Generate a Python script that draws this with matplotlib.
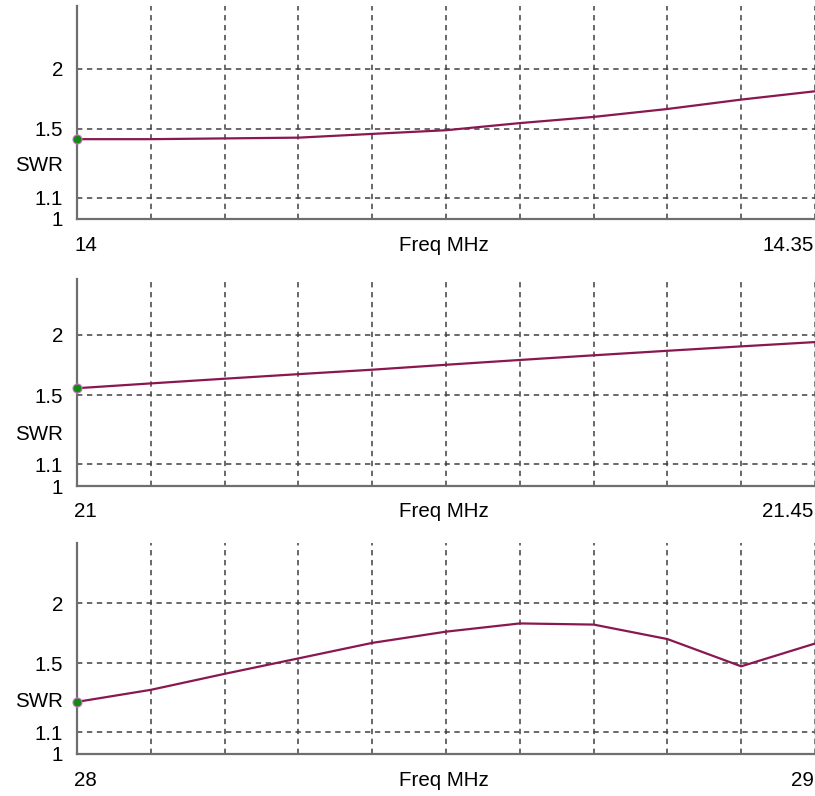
import numpy as np
import matplotlib
matplotlib.use("Agg")
import matplotlib.pyplot as plt

plt.rcParams['font.family'] = ['Liberation Sans', 'DejaVu Sans']

# SWR sweeps for three bands, read at each grid step
freq_20m = [14.0, 14.035, 14.07, 14.105, 14.14, 14.175, 14.21, 14.245, 14.28, 14.315, 14.35]
swr_20m = [1.43, 1.43, 1.435, 1.44, 1.465, 1.49, 1.54, 1.585, 1.645, 1.72, 1.79]

freq_15m = [21.0, 21.045, 21.09, 21.135, 21.18, 21.225, 21.27, 21.315, 21.36, 21.405, 21.45]
swr_15m = [1.55, 1.585, 1.62, 1.655, 1.69, 1.73, 1.77, 1.81, 1.85, 1.89, 1.93]

freq_10m = [28.0, 28.1, 28.2, 28.3, 28.4, 28.5, 28.6, 28.7, 28.8, 28.9, 29.0]
swr_10m = [1.26, 1.33, 1.43, 1.535, 1.65, 1.74, 1.81, 1.80, 1.68, 1.48, 1.645]

left_labels = ["14", "21", "28"]
right_labels = ["14.35", "21.45", "29"]
ytick_vals = [1, 1.1, 1.5, 2]
ytick_text = ["1", "1.1", "1.5", "2"]


def fwd(s):
    s = np.asarray(s, dtype=float)
    with np.errstate(divide='ignore', invalid='ignore'):
        return (s - 1) / (s + 1)


def inv(r):
    r = np.asarray(r, dtype=float)
    with np.errstate(divide='ignore', invalid='ignore'):
        return (1 + r) / (1 - r)


fig = plt.figure(figsize=(8.15, 7.96), dpi=100)

panels = [
    (freq_20m, swr_20m, [0.0945, 0.7249, 0.9055, 0.2676], 2.79, False),
    (freq_15m, swr_15m, [0.0945, 0.3894, 0.9055, 0.2601], 2.68, True),
    (freq_10m, swr_10m, [0.0945, 0.0528, 0.9055, 0.2651], 2.745, True),
]

fs = 14.8
for i, (f, s, pos, top, right_spine) in enumerate(panels):
    ax = fig.add_axes(pos)
    ax.set_yscale('function', functions=(fwd, inv))
    ax.set_xlim(f[0], f[-1])
    ax.set_ylim(1, top)

    ax.plot(f, s, color='#8a1850', linewidth=1.6, zorder=3)
    ax.plot(f[0], s[0], 'o', ms=6.5, mfc='#128a12', mec='#d070d0', mew=0.8,
            zorder=4, clip_on=False)

    ax.set_xticks(np.linspace(f[0], f[-1], 11))
    ax.set_xticklabels([])
    ax.set_yticks(ytick_vals)
    ax.set_yticklabels(ytick_text, fontsize=fs)
    ax.minorticks_off()
    ax.tick_params(axis='both', length=0, pad=10)

    ax.grid(True, color='#404040', linestyle=(0, (3.5, 3)), linewidth=1.1)

    ax.spines['top'].set_visible(False)
    ax.spines['left'].set_color('#6e6e6e')
    ax.spines['bottom'].set_color('#6e6e6e')
    ax.spines['left'].set_linewidth(1.6)
    ax.spines['bottom'].set_linewidth(1.6)
    if right_spine:
        ax.spines['right'].set_color('#c8c8c8')
        ax.spines['right'].set_linewidth(1.0)
    else:
        ax.spines['right'].set_visible(False)

    ax.text(-0.0195, 0.25, "SWR", transform=ax.transAxes, ha='right',
            va='center', fontsize=fs)
    ax.text(-0.004, -0.125, left_labels[i], transform=ax.transAxes, ha='left',
            va='center', fontsize=fs)
    ax.text(0.497, -0.125, "Freq MHz", transform=ax.transAxes, ha='center',
            va='center', fontsize=fs)
    ax.text(0.998, -0.125, right_labels[i], transform=ax.transAxes, ha='right',
            va='center', fontsize=fs)

fig.savefig("out.png", dpi=100, facecolor='white')
